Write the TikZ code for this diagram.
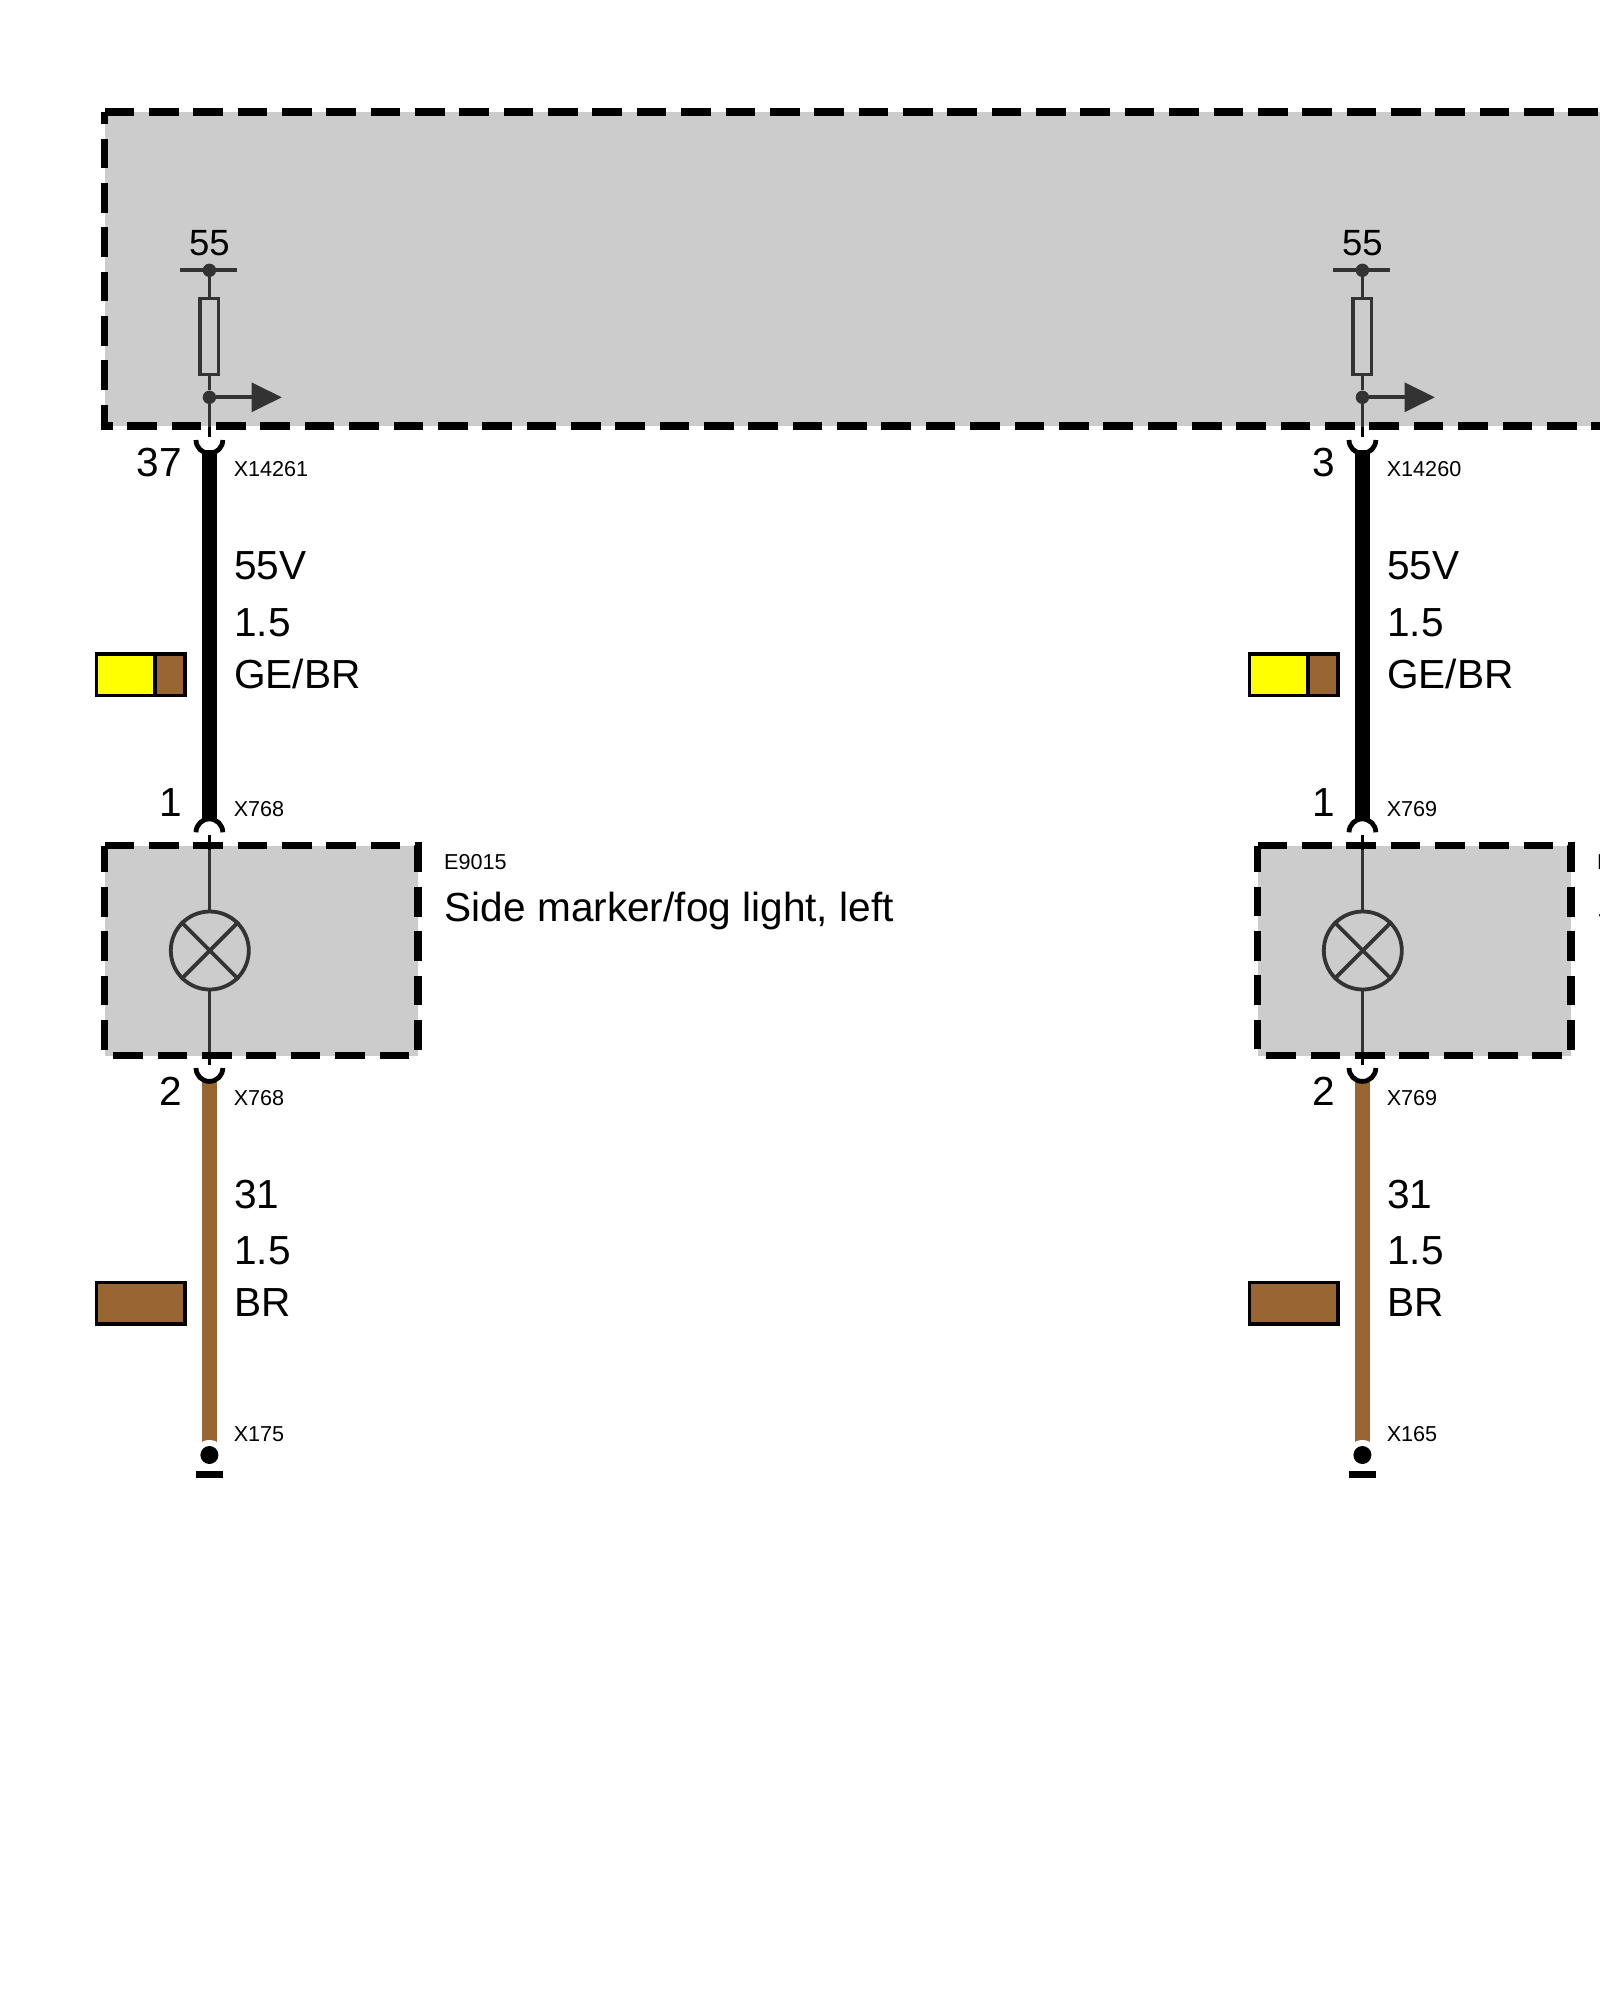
\documentclass[tikz,border=0pt]{standalone}
\usepackage{fontspec}
\setmainfont{Liberation Sans}
\definecolor{boxgray}{HTML}{CCCCCC}
\definecolor{ink}{HTML}{333333}
\definecolor{wirebrown}{HTML}{996633}
\definecolor{wireyellow}{HTML}{FFFF00}
\newcommand{\bigtxt}{\fontsize{40.6}{44}\selectfont}
\newcommand{\midtxt}{\fontsize{36.5}{40}\selectfont}
\newcommand{\smalltxt}{\fontsize{21.6}{24}\selectfont}
\tikzset{
  x=1pt,y=-1pt,
  unitbox/.style={draw=black,line width=7.7pt,dash pattern=on 29.66pt off 14.7pt,line join=miter},
  thin ink/.style={draw=ink,line width=3.8pt},
  pin stub/.style={draw=black,line width=3.8pt},
  inkdot/.style={circle,fill=ink,draw=none,minimum size=13.4pt,inner sep=0pt},
  bigwire/.style={draw=black,line width=14.7pt},
  brownwire/.style={draw=wirebrown,line width=14.7pt},
  cup/.style={draw=black,line width=4.8pt},
  swatch/.style={draw=black,line width=3.8pt},
  big label/.style={anchor=base west,inner sep=0pt,font=\bigtxt},
  pin label/.style={anchor=base east,inner sep=0pt,font=\bigtxt},
  small label/.style={anchor=base west,inner sep=0pt,font=\smalltxt},
  volt label/.style={anchor=base,inner sep=0pt,font=\midtxt},
}
% #1 id, #2 dx, #3 upper pin, #4 upper connector, #5 lamp connector, #6 ground
\newcommand{\column}[6]{%
\begin{scope}[shift={(#2,0)}]
  % wires
  \coordinate (wa#1) at (209.4,450);
  \coordinate (wb#1) at (209.4,821);
  \coordinate (wc#1) at (209.4,1080);
  \coordinate (wd#1) at (209.4,1447);
  \draw[bigwire] (wa#1) -- (wb#1);
  \draw[brownwire] (wc#1) -- (wd#1);
  % terminal cups
  \draw[cup] (196,440) arc[start angle=180,end angle=0,radius=13.4];
  \draw[cup] (196,832.3) arc[start angle=180,end angle=360,radius=13.4];
  \draw[cup] (196,1068) arc[start angle=180,end angle=0,radius=13.4];
  % fuse branch
  \node[volt label] (v#1) at (209.4,255) {55};
  \node[inkdot] (da#1) at (209.4,270.3) {};
  \node[inkdot] (db#1) at (209.4,397.3) {};
  \coordinate (tl#1) at (180,270.3);
  \coordinate (tr#1) at (236.7,270.3);
  \draw[thin ink] (tl#1) -- (tr#1);
  \node[draw=ink,line width=3.6pt,minimum width=18.4pt,minimum height=76pt,inner sep=0pt] (f#1) at (209.4,336.3) {};
  \coordinate (tip#1) at (281.7,397.3);
  \coordinate (base#1) at (252,397.3);
  \coordinate (pmid#1) at (209.4,427);
  \coordinate (pout#1) at (209.4,436.7);
  \draw[thin ink] (da#1) -- (f#1.north);
  \draw[thin ink] (f#1.south) -- (db#1);
  \draw[thin ink] (db#1) -- (pmid#1);
  \draw[pin stub] (pmid#1) -- (pout#1);
  \draw[thin ink] (db#1) -- (base#1);
  \fill[ink] (251.7,382.4) -- (tip#1) -- (251.7,412.2) -- cycle;
  % lamp
  \node[circle,draw=ink,line width=3.8pt,minimum size=78pt,inner sep=0pt] (lamp#1) at (209.8,950.5) {};
  \coordinate (lt#1) at (209.4,835);
  \coordinate (ltm#1) at (209.4,850);
  \coordinate (lbm#1) at (209.4,1052);
  \coordinate (lb#1) at (209.4,1065);
  \draw[pin stub] (lt#1) -- (ltm#1);
  \draw[thin ink] (ltm#1) -- (ltm#1 |- lamp#1.north);
  \draw[thin ink] (lbm#1 |- lamp#1.south) -- (lbm#1);
  \draw[pin stub] (lbm#1) -- (lb#1);
  \draw[thin ink] (lamp#1.north west) -- (lamp#1.south east);
  \draw[thin ink] (lamp#1.north east) -- (lamp#1.south west);
  % ground
  \node[circle,fill=white,draw=none,minimum size=30pt,inner sep=0pt] (gh#1) at (209.4,1455) {};
  \node[circle,fill=black,draw=none,minimum size=18pt,inner sep=0pt] (g#1) at (209.4,1455) {};
  \node[fill=black,draw=none,minimum width=26.4pt,minimum height=7.6pt,inner sep=0pt] (gb#1) at (209.5,1474.5) {};
  % swatches
  \node[swatch,fill=wireyellow,minimum width=58.5pt,minimum height=41.5pt,inner sep=0pt] (sy#1) at (125.75,674.8) {};
  \node[swatch,fill=wirebrown,minimum width=29.5pt,minimum height=41.5pt,inner sep=0pt] (sb#1) at (169.9,674.8) {};
  \node[swatch,fill=wirebrown,minimum width=88.4pt,minimum height=41.2pt,inner sep=0pt] (sc#1) at (140.6,1303) {};
  % labels
  \node[pin label] (pa#1) at (182,476.7) {#3};
  \node[small label] (xa#1) at (233.6,476.7) {#4};
  \node[big label] (ta#1) at (234,579) {55V};
  \node[big label] (tb#1) at (234,636) {1.5};
  \node[big label] (tc#1) at (234,688.3) {GE/BR};
  \node[pin label] (pb#1) at (182,816.7) {1};
  \node[small label] (xb#1) at (233.6,816.7) {#5};
  \node[pin label] (pc#1) at (182,1105) {2};
  \node[small label] (xc#1) at (233.6,1105) {#5};
  \node[big label] (td#1) at (234,1208.5) {31};
  \node[big label] (te#1) at (234,1264) {1.5};
  \node[big label] (tf#1) at (234,1316.7) {BR};
  \node[small label] (xd#1) at (233.6,1441.7) {#6};
\end{scope}}
\begin{document}
\begin{tikzpicture}
\useasboundingbox (0,0) rectangle (1600,2000);
\fill[white] (0,0) rectangle (1600,2000);
% control unit
\fill[boxgray] (104.5,112) rectangle (1703.64,426.3);
\draw[unitbox] (104.5,112) -- (1703.64,112) -- (1703.64,426.3) -- (104.5,426.3) -- cycle;
% lamp housings
\fill[boxgray] (104.5,845.5) rectangle (418,1055.5);
\draw[unitbox] (104.5,845.5) -- (418,845.5) -- (418,1055.5) -- (104.5,1055.5) -- cycle;
\fill[boxgray] (1257.6,845.5) rectangle (1571,1055.5);
\draw[unitbox] (1257.6,845.5) -- (1571,845.5) -- (1571,1055.5) -- (1257.6,1055.5) -- cycle;
\column{L}{0}{37}{X14261}{X768}{X175}
\column{R}{1153}{3}{X14260}{X769}{X165}
\node[small label] (ne) at (444,869) {E9015};
\node[big label] (nn) at (444.5,921.5) {Side marker/fog light, left};
\node[small label] (ne2) at (1597,869) {E};
\node[big label] (nn2) at (1597,921.5) {S};
\end{tikzpicture}
\end{document}
